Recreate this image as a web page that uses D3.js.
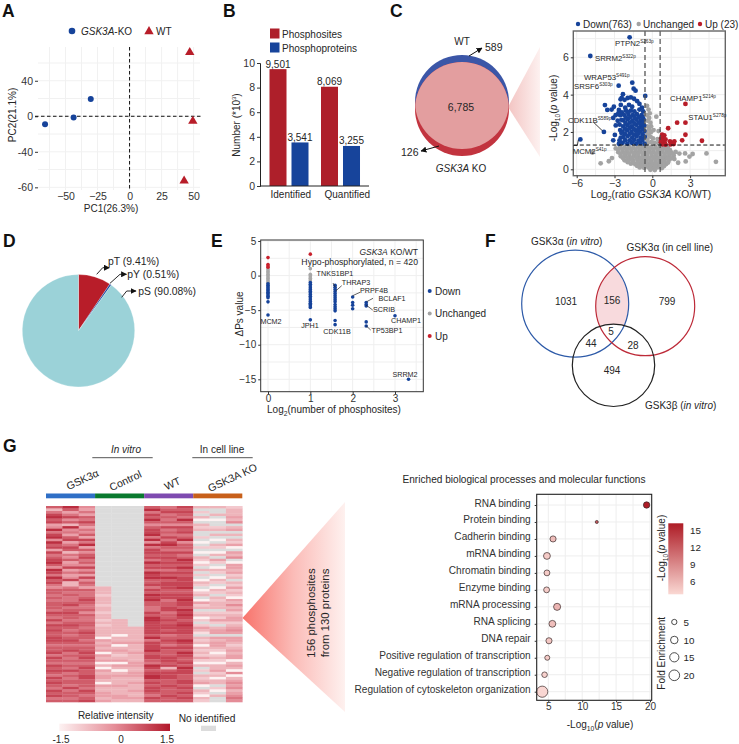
<!DOCTYPE html>
<html><head><meta charset="utf-8">
<script src="https://cdn.jsdelivr.net/npm/d3@7"></script>
<style>html,body{margin:0;padding:0;background:#fff}svg{display:block}text{font-family:"Liberation Sans",Arial,sans-serif;fill:#262626}</style>
</head><body><svg id="c" width="739" height="744"></svg>
<script>
// ---- Panel A
const pcaKoX=[-66,-43.7,-30.3], pcaKoY=[-9,-1.5,19.5];
const pcaWtX=[47,49.4,42.6], pcaWtY=[72,-5.5,-72.7];
const pcaXTicks=[-50,-25,0,25,50];
const pcaYTicks=[40,0,-40,-80], pcaYLabels=["40","0","-40","-60"];
// ---- Panel B
const barGroups=["Identified","Quantified"], barSeries=["Phosphosites","Phosphoproteins"];
const barSites=[9.501,8.069], barProteins=[3.541,3.255];
const barSiteLabels=["9,501","8,069"], barProteinLabels=["3,541","3,255"];
// ---- Panel C
const volcanoDown=[[-1.8,7.07],[-4.92,6.07],[-2.67,4.48],[-1.59,4.64],[-1.48,4.32],[-1.33,4.21],[-0.56,3.93],[-2.33,4.02],[-2.52,3.75],[-2.43,3.82],[-3.76,3.44],[-3.57,3.18],[-3.23,3.2],[-3.05,3.35],[-2.91,2.9],[-3.1,2.75],[-2.65,3.18],[-2.5,3.45],[-2.2,3.72],[-1.95,3.82],[-1.7,3.85],[-1.45,3.78],[-1.2,3.65],[-1.02,3.5],[-0.82,3.3],[-2.75,2.6],[-2.9,2.35],[-3.84,2.0],[-5.71,1.6],[-2.97,1.84],[-3.1,1.55],[-2.65,1.37],[-2.55,2.1],[-2.5,1.7],[-2.42,3.05],[-2.15,3.3],[-1.85,3.45],[-1.6,3.35],
[-2.35,1.42],[-1.98,1.38],[-1.62,1.42],[-1.28,1.38],[-0.95,1.41],[-0.62,1.37],[-2.3,1.72],[-1.95,1.78],[-1.6,1.7],[-1.25,1.76],[-0.92,1.7],[-0.6,1.75],[-2.37,2.02],[-2.0,2.08],[-1.65,2.0],[-1.3,2.06],[-0.98,2.02],[-0.63,2.05],[-2.32,2.3],[-1.97,2.36],[-1.62,2.3],[-1.28,2.38],[-0.93,2.32],[-0.65,2.35],[-2.3,2.62],[-1.95,2.68],[-1.58,2.6],[-1.25,2.66],[-0.9,2.6],[-0.68,2.66],[-2.25,2.92],[-1.9,2.96],[-1.55,2.9],[-1.22,2.95],[-0.85,2.9],[-2.1,3.15],[-1.7,3.14],[-1.02,3.2],[-0.72,3.1],
[-2.15,1.56],[-1.8,1.55],[-1.44,1.58],[-1.1,1.54],[-0.78,1.57],[-2.15,1.88],[-1.78,1.9],[-1.45,1.86],[-1.12,1.9],[-0.77,1.87],[-2.17,2.18],[-1.8,2.2],[-1.46,2.16],[-1.1,2.2],[-0.79,2.17],[-2.13,2.48],[-1.78,2.5],[-1.42,2.46],[-1.08,2.5],[-0.78,2.47],[-2.1,2.78],[-1.75,2.8],[-1.4,2.76],[-1.05,2.8],[-0.76,2.78],[-1.95,3.08],[-1.42,3.1],[-2.6,2.4],[-2.45,2.65],[-2.55,2.9],[-2.7,3.0],[-2.45,1.95],[-2.6,1.55]];
const volcanoUnchanged=[[-4.75,0.9],[-4.1,0.32],[-3.45,0.43],[-3.2,0.6],[5.05,0.4],[4.3,0.85],[3.2,0.82],[2.95,0.68],[2.65,0.42],[2.6,0.85],[2.15,0.84],[2.05,0.35],[1.75,0.55],
[-0.42,3.4],[-0.3,3.2],[-0.2,3.0],[0.32,2.82],[-0.45,2.9],[-0.35,2.6],[-0.15,2.5],[-0.4,2.3],[-0.25,2.15],[-0.1,2.3],[0.1,2.1],[0.5,2.05],[-0.45,2.0],[-0.3,1.85],[-0.4,1.6],[-0.15,1.75],[0.05,1.65],[0.42,1.62],[-0.38,1.4],[-0.1,1.45],[0.2,1.42],[0.5,1.4],[-0.25,2.75],[-0.1,2.0],
[-2.9,1.12],[-2.55,1.2],[-2.2,1.18],[-1.85,1.2],[-1.5,1.17],[-1.15,1.2],[-0.8,1.18],[-0.45,1.2],[-0.1,1.18],[0.25,1.2],[0.6,1.17],[0.95,1.2],[1.25,1.13],
[-2.7,0.92],[-2.35,0.95],[-2.0,0.92],[-1.65,0.96],[-1.3,0.93],[-0.95,0.96],[-0.6,0.93],[-0.25,0.96],[0.1,0.93],[0.45,0.96],[0.8,0.93],[1.15,0.95],[1.5,0.9],[1.85,0.93],
[-2.5,0.7],[-2.15,0.72],[-1.8,0.7],[-1.45,0.73],[-1.1,0.7],[-0.75,0.73],[-0.4,0.7],[-0.05,0.73],[0.3,0.7],[0.65,0.73],[1.0,0.7],[1.35,0.72],[1.7,0.72],
[-2.2,0.48],[-1.85,0.5],[-1.5,0.47],[-1.15,0.5],[-0.8,0.47],[-0.45,0.5],[-0.1,0.47],[0.25,0.5],[0.6,0.47],[0.95,0.5],[1.3,0.47],
[-1.7,0.3],[-1.35,0.27],[-1.0,0.3],[-0.65,0.27],[-0.3,0.3],[0.05,0.27],[0.4,0.3],[0.75,0.27],[1.1,0.28],[-1.0,0.1],[-0.65,0.08],[-0.3,0.1],[0.05,0.07],[0.4,0.1],[0.75,0.06],[-0.15,-0.03],[0.2,-0.04],
[-2.7,1.05],[-2.37,1.07],[-2.03,1.05],[-1.68,1.08],[-1.33,1.05],[-0.98,1.08],[-0.63,1.05],[-0.28,1.08],[0.08,1.05],[0.42,1.08],[0.78,1.05],[1.1,1.07],[1.4,1.03],
[-2.52,0.82],[-2.17,0.84],[-1.83,0.82],[-1.47,0.85],[-1.12,0.82],[-0.77,0.85],[-0.42,0.82],[-0.07,0.85],[0.28,0.82],[0.63,0.85],[0.98,0.82],[1.33,0.84],[1.66,0.82],
[-2.32,0.6],[-1.97,0.61],[-1.63,0.59],[-1.27,0.62],[-0.92,0.59],[-0.57,0.62],[-0.22,0.59],[0.13,0.62],[0.48,0.59],[0.83,0.62],[1.18,0.6],[1.5,0.58],
[-1.95,0.38],[-1.53,0.38],[-1.17,0.37],[-0.83,0.39],[-0.47,0.37],[-0.12,0.39],[0.23,0.37],[0.58,0.39],[0.93,0.37],[1.25,0.36],
[-1.2,0.18],[-0.83,0.19],[-0.47,0.18],[-0.12,0.19],[0.23,0.18],[0.58,0.19],[0.92,0.17]];
const volcanoUp=[[2.63,3.5],[2.63,2.5],[1.97,2.5],[1.26,2.2],[2.63,1.85],[2.37,1.55],[3.94,1.53],[0.78,1.85],[0.95,1.82],[0.7,1.65],[0.9,1.62],[1.05,1.6],[0.68,1.45],[0.85,1.42],[1.0,1.4],[0.8,1.34],[1.05,1.32],[1.4,1.5],[1.55,1.42],[1.75,1.5],[1.45,1.33],[1.7,1.35],[0.72,1.55]];
const volcanoXTicks=[-6,-3,0,3], volcanoYTicks=[0,2,4,6];
const vennCCounts=["589","6,785","126"];
// ---- Panel D
const pieLabels=["pT (9.41%)","pY (0.51%)","pS (90.08%)"];
const pieValues=[9.41,0.51,90.08];
const pieColors=["#b81d29","#1f4aa0","#9bd2d8"];
// ---- Panel E: one list per x position
const deltaX=[0,1,1.585,2,2.32,3,3.32];
const deltaDown=[
 [-1.2,-1.4,-1.6,-1.8,-2,-2.2,-2.4,-2.6,-2.8,-3,-3.2,-3.8,-5.7],
 [-1,-1.25,-1.5,-1.75,-2,-2.25,-2.5,-2.75,-3,-3.25,-3.5,-3.75,-4,-4.2,-4.4,-4.6,-6.4],
 [-1.4,-1.7,-2,-2.3,-2.6,-2.9,-3.2,-3.5,-3.8,-4.2,-4.5,-4.8,-5.1,-6.5,-7.1],
 [-3.1,-3.9,-4.3,-4.8],
 [-3.9,-4.2,-4.4,-6.7,-7.3],
 [-5.8],
 [-15]];
const deltaFlat=[[1,0.8,0.6,0.4,0.2,0,-0.2,-0.4,-0.6,-0.8,-1,-1.1],[1,0.2,0,-0.2,-0.4,-0.6,-0.8],[],[],[],[],[]];
const deltaUp=[[2.6,1.6,1.4,1.2],[3.1],[],[],[],[],[]];
const deltaLegend=["Down","Unchanged","Up"];
// ---- Panel F
const vennFCounts=["1031","156","799","5","44","28","494"];
// ---- Panel G heatmap: one text per column, one digit per row (0 low..9 high, x = not identified)
const heatGroups=["GSK3\u03b1","Control","WT","GSK3A KO"];
const heatColumns=[
"7368978459 6895978486 7897598697 8657767677 7687686878 7788767786 8768787687 87687867",
"9746857395 6478468736 5745846458 3367676678 6787767876 7678767867 6767686767 76867767",
"5464768646 5748694757 8675857485 7647667876 6757667767 8776767787 8767877887 77687678",
"xxxxxxxxxx xxxxxxxxxx xxxxxxxxxx xx33323332 3323323233 3304343404 3403043443 04334434",
"xxxxxxxxxx xxxxxxxxxx xxxxxxxxxx xxxxxxxxxx xxxxx33333 3033403432 3404303433 34333443",
"xxxxxxxxxx xxxxxxxxxx xxxxxxxxxx xxxxxxxxxx xxxxxxxx33 3333433343 3344334433 43343343",
"7968797578 8969596887 8697869897 7868798977 6687998888 8796888978 8769878997 87887687",
"6786767586 7686897687 8787868797 8887788677 8867787887 8678768777 8878378887 78777877",
"8787697587 8679577686 7987978788 8897788988 7989878988 8779878798 7787988778 87878787",
"3x2x30x323 xx2x0x2x0x 3202x3x2x0 32x023x042 3x2302x243 1x32303232 4203x2x323 40x32032",
"3xx3x0xx23 x3x0x32x03 x42x032x03 2x032x3233 3x23242x34 4x43443202 3203342303 3x20x3xx",
"2333435x34 x3x3240x43 5x0443423x 3242320435 3423442345 4x44323434 4034305034 54534565"];
// ---- Panel G bubbles
const bubbleTerms=["RNA binding","Protein binding","Cadherin binding","mRNA binding","Chromatin binding","Enzyme binding","mRNA processing","RNA splicing","DNA repair","Positive regulation of transcription","Negative regulation of transcription","Regulation of cytoskeleton organization"];
const bubbleP=[19.5,12.15,5.7,4.8,4.8,4.75,6.3,5.6,5.1,4.85,4.45,4.1];
const bubbleFold=[6.5,1.5,6,7.5,5.5,5.5,8,7.5,6,4,5,20];
const foldLegend=[5,10,15,20];
const pColorTicks=[6,9,12,15];

const svg=d3.select("#c");
const BLUE="#16439a",RED="#b81d29",GREY="#a3a3a3";
const FF='"Liberation Sans",Arial,sans-serif';
function txt(x,y,s,size,anchor,extra){
  const t=svg.append("text").attr("x",x).attr("y",y).attr("font-size",size||10).attr("text-anchor",anchor||"start");
  rich(t,s,size||10);
  if(extra)Object.entries(extra).forEach(([k,v])=>t.attr(k,v));
  return t;
}
function rich(t,s,size){
  if(typeof s==="string"){t.text(s);return;}
  let pending=0;
  s.forEach(seg=>{
    const [c,f]=Array.isArray(seg)?seg:[seg,""];
    const sp=t.append("tspan").text(c);
    let dy=pending;pending=0;
    if(f==="i")sp.attr("font-style","italic");
    if(f==="b"){sp.attr("font-size",size*0.68);dy+=size*0.28;pending=-size*0.28;}
    if(f==="p"){sp.attr("font-size",size*0.6);dy+=-size*0.38;pending=size*0.38;}
    if(dy)sp.attr("dy",dy);
  });
}
function vtxt(x,y,s,size){return txt(0,0,s,size,"middle",{transform:`translate(${x},${y}) rotate(-90)`});}
function letter(s,x,y){svg.append("text").attr("x",x).attr("y",y).attr("font-size",17.5).attr("font-weight","bold").style("fill","#111").text(s);}
function styleAxis(g,opts){
  opts=opts||{};
  g.selectAll("text").attr("font-size",opts.size||10.5).attr("font-family",FF).style("fill","#333");
  g.selectAll(".tick line").attr("stroke","#333");
  g.select(".domain").attr("stroke",opts.domain||"#222");
  if(opts.noDomain)g.select(".domain").remove();
}
function grid(x0,x1,y0,y1,xs,ys,col){
  const g=svg.append("g").attr("stroke",col||"#f1f1f1").attr("stroke-width",1);
  g.selectAll(".v").data(xs).join("line").attr("x1",d=>d).attr("x2",d=>d).attr("y1",y0).attr("y2",y1);
  g.selectAll(".h").data(ys).join("line").attr("y1",d=>d).attr("y2",d=>d).attr("x1",x0).attr("x2",x1);
}
const defs=svg.append("defs");
defs.append("marker").attr("id","arr").attr("viewBox","0 0 10 10").attr("refX",9).attr("refY",5).attr("markerWidth",6).attr("markerHeight",6).attr("orient","auto").attr("markerUnits","userSpaceOnUse")
 .append("path").attr("d","M0,0L10,5L0,10z").attr("fill","#111");
defs.append("filter").attr("id","soft").attr("x",0).attr("y",0).attr("width",1).attr("height",1).append("feGaussianBlur").attr("stdDeviation",0.55);
function lg(id,x1,x2,stops){
  const g=defs.append("linearGradient").attr("id",id).attr("x1",x1[0]).attr("y1",x1[1]).attr("x2",x2[0]).attr("y2",x2[1]);
  stops.forEach(([o,c])=>g.append("stop").attr("offset",o).attr("stop-color",c));
}
lg("coneC",[0,0],[1,0],[[0,"#f3c4c2"],[1,"#fdf1f0"]]);
lg("coneG",[0,0],[1,0],[[0,"#f8736b"],[0.5,"#fbbcb8"],[1,"#fef1ef"]]);

// ===== A =====
letter("A",2,17);
{
 const x=d3.scaleLinear().domain([-71.5,55]).range([38,200]);
 const y=d3.scaleLinear().domain([78,-83]).range([47,190]);
 grid(38,200,47,190,d3.range(-62.5,55,12.5).map(x),d3.range(-80,61,20).map(y));
 const ya=svg.append("g").attr("transform","translate(38,0)").call(d3.axisLeft(y).tickValues(pcaYTicks).tickFormat((d,i)=>pcaYLabels[i]).tickSize(3).tickPadding(2));
 styleAxis(ya,{noDomain:true});
 const xa=svg.append("g").attr("transform","translate(0,190)").call(d3.axisBottom(x).tickValues(pcaXTicks).tickSize(0).tickPadding(3));
 styleAxis(xa,{noDomain:true});
 svg.append("line").attr("x1",x(0)).attr("x2",x(0)).attr("y1",47).attr("y2",190).attr("stroke","#111").attr("stroke-width",1).attr("stroke-dasharray","3.5 2.5");
 svg.append("line").attr("x1",35).attr("x2",201).attr("y1",y(0)).attr("y2",y(0)).attr("stroke","#111").attr("stroke-width",1).attr("stroke-dasharray","3.5 2.5");
 svg.selectAll(".ko").data(pcaKoX).join("circle").attr("cx",d=>x(d)).attr("cy",(d,i)=>y(pcaKoY[i])).attr("r",3).attr("fill",BLUE);
 const tri=d3.symbol(d3.symbolTriangle,38)();
 svg.selectAll(".wt").data(pcaWtX).join("path").attr("d",tri).attr("transform",(d,i)=>`translate(${x(d)},${y(pcaWtY[i])})`).attr("fill",RED);
 svg.append("circle").attr("cx",72).attr("cy",31).attr("r",3.3).attr("fill",BLUE);
 txt(81,34.5,[["GSK3A","i"],"-KO"],10);
 svg.append("path").attr("d",tri).attr("transform","translate(149,31.5)").attr("fill",RED);
 txt(156,34.5,"WT",10);
 txt(111,212,"PC1(26.3%)",10,"middle");
 vtxt(16,115,"PC2(21.1%)",10);
}
// ===== B =====
letter("B",223,17);
{
 const y=d3.scaleLinear().domain([0,10]).range([186,63]);
 const x0=d3.scaleBand().domain(barGroups).range([263.25,366.25]);
 const x1=d3.scaleBand().domain(barSeries).range([0,x0.bandwidth()]).paddingInner(0.227).paddingOuter(0.284);
 const g=svg.append("g");
 const sets=[[barSeries[0],barSites,barSiteLabels,"#ae1f2a"],[barSeries[1],barProteins,barProteinLabels,"#17449b"]];
 sets.forEach(([s,vals,labs,c])=>{
  g.selectAll(null).data(vals).join("rect").attr("x",(d,i)=>x0(barGroups[i])+x1(s)).attr("width",x1.bandwidth()).attr("y",d=>y(d)).attr("height",d=>186-y(d)).attr("fill",c);
  g.selectAll(null).data(labs).join("text").attr("x",(d,i)=>x0(barGroups[i])+x1(s)+x1.bandwidth()/2).attr("y",(d,i)=>y(vals[i])-1.5).attr("text-anchor","middle").attr("font-size",10).text(d=>d);
 });
 const ya=svg.append("g").attr("transform","translate(260,0)").call(d3.axisLeft(y).tickValues([0,2,4,6,8,10]).tickSize(3).tickPadding(2));
 styleAxis(ya,{size:10.5});
 svg.append("line").attr("x1",260).attr("x2",369).attr("y1",186).attr("y2",186).attr("stroke","#222");
 txt(270.5,197.5,"Identified",10);txt(324.5,197.5,"Quantified",10);
 vtxt(240,125,["Number (*10",["3","p"],")"],10);
 svg.append("rect").attr("x",270).attr("y",28.5).attr("width",9.5).attr("height",10).attr("fill","#ae1f2a");
 svg.append("rect").attr("x",270).attr("y",42.5).attr("width",9.5).attr("height",10).attr("fill","#17449b");
 txt(282,37.5,barSeries[0],10);txt(282,51.5,barSeries[1],10);
}
// ===== C =====
letter("C",390,17);
{
 defs.append("clipPath").attr("id","cBlue").append("circle").attr("cx",462).attr("cy",102).attr("r",47);
 svg.append("polygon").attr("points","508,107 540,47 540,157").attr("fill","url(#coneC)");
 svg.append("circle").attr("cx",462).attr("cy",102).attr("r",47).attr("fill","#3b56a7");
 svg.append("circle").attr("cx",462).attr("cy",109).attr("r",47).attr("fill","#c2343f");
 svg.append("circle").attr("cx",462).attr("cy",109).attr("r",47).attr("fill","#e39e9f").attr("clip-path","url(#cBlue)");
 txt(461,111,vennCCounts[1],10.5,"middle");
 txt(462,45,"WT",10,"middle");
 txt(485,51,vennCCounts[0],10.5);
 svg.append("line").attr("x1",469).attr("y1",56).attr("x2",482).attr("y2",48).attr("stroke","#111").attr("marker-end","url(#arr)");
 txt(401,156,vennCCounts[2],10.5);
 svg.append("line").attr("x1",439).attr("y1",146).attr("x2",421).attr("y2",151).attr("stroke","#111").attr("marker-end","url(#arr)");
 txt(461,172,[["GSK3A","i"]," KO"],10,"middle");
 const L=573.3,R=725.3,T=31,B=175.7;
 const x=d3.scaleLinear().domain([-6,3]).range([576.7,690.1]);
 const y=d3.scaleLinear().domain([0,6]).range([169.3,57.3]);
 grid(L,R,T,B,d3.range(-6,6,1.5).map(x),d3.range(0,8,1).map(y),"#eeeeee");
 const pts=(data,c,r)=>svg.append("g").selectAll("circle").data(data).join("circle").attr("cx",d=>x(d[0])).attr("cy",d=>y(d[1])).attr("r",r||2.4).attr("fill",c);
 pts(volcanoUnchanged,GREY);
 pts(volcanoDown,BLUE);
 pts(volcanoUp,RED);
 svg.append("line").attr("x1",x(-0.58)).attr("x2",x(-0.58)).attr("y1",T).attr("y2",B).attr("stroke","#555").attr("stroke-width",1.3).attr("stroke-dasharray","5 3");
 svg.append("line").attr("x1",x(0.62)).attr("x2",x(0.62)).attr("y1",T).attr("y2",B).attr("stroke","#444").attr("stroke-width",1.1).attr("stroke-dasharray","5 3");
 svg.append("line").attr("x1",L).attr("x2",R).attr("y1",y(1.3)).attr("y2",y(1.3)).attr("stroke","#111").attr("stroke-width",1).attr("stroke-dasharray","4 2.5");
 svg.append("rect").attr("x",L).attr("y",T).attr("width",R-L).attr("height",B-T).attr("fill","none").attr("stroke","#666").attr("stroke-width",1.4);
 const xa=svg.append("g").attr("transform",`translate(0,${B})`).call(d3.axisBottom(x).tickValues(volcanoXTicks).tickFormat(d3.format("d")).tickSize(2.5).tickPadding(1));
 styleAxis(xa,{noDomain:true,size:10.5});
 const ya=svg.append("g").attr("transform",`translate(${L},0)`).call(d3.axisLeft(y).tickValues(volcanoYTicks).tickFormat(d3.format("d")).tickSize(2.5).tickPadding(2));
 styleAxis(ya,{noDomain:true,size:10.5});
 [[578,"Down(763)",583,BLUE],[638.7,"Unchanged",643,GREY],[700,"Up (23)",705,RED]].forEach(([cx,s,tx,c])=>{
  svg.append("circle").attr("cx",cx).attr("cy",24).attr("r",2.2).attr("fill",c);
  txt(tx,27.5,s,10);
 });
 const labs=[["PTPN2","S263p",615,46],["SRRM2","S322p",595,61],["WRAP53","S491p",584,80],["SRSF6","S303p",574,89],["CDK11B","S589p",568,123],["MCM2","S41p",572.7,154],["CHAMP1","S214p",670,101],["STAU1","S278p",688.3,120]];
 labs.forEach(([n,s,lx,ly])=>txt(lx,ly,[n,[s,"p"]],7.8));
 svg.append("line").attr("x1",594).attr("y1",122.7).attr("x2",602.3).attr("y2",130.7).attr("stroke","#111").attr("stroke-width",.8);
 svg.append("path").attr("d","M578.3,140L577.3,145.5L573.5,145.5").attr("fill","none").attr("stroke","#111").attr("stroke-width",.8);
 vtxt(557,108,["-Log",["10","b"],"(",["p","i"]," value)"],10);
 txt(651,198,["Log",["2","b"],"(ratio ",["GSK3A","i"]," KO/WT)"],10.2,"middle");
}
// ===== D =====
letter("D",3,247);
{
 const arcs=d3.pie().sort(null)(pieValues);
 const arc=d3.arc().innerRadius(0).outerRadius(56.2);
 svg.append("g").attr("transform","translate(78.5,330.7)").selectAll("path").data(arcs).join("path").attr("d",arc).attr("fill",(d,i)=>pieColors[i]).attr("stroke","#fff").attr("stroke-width",.25);
 const pos=[[108,265,"M96.7,274.3L102.7,267.7L109.3,267.7"],[127.3,277.5,"M110,283.3L120,274.3L126.5,274.3"],[138.3,295,"M121.7,297.3L126.7,291L136,291"]];
 pieLabels.forEach((s,i)=>{
  txt(pos[i][0],pos[i][1],s,10.4);
  svg.append("path").attr("d",pos[i][2]).attr("fill","none").attr("stroke","#111").attr("stroke-width",.9).attr("marker-end","url(#arr)");
 });
}
// ===== E =====
letter("E",211,247);
{
 const L=260.7,R=423.3,T=240,B=391.7;
 const x=d3.scaleLinear().domain([0,3]).range([268,395]);
 const y=d3.scaleLinear().domain([5,-15]).range([241,379.3]);
 grid(L,R,T,B,d3.range(0,3.6,.5).map(x),d3.range(-15,5.1,2.5).map(y),"#efefef");
 const pts=(lists,c,r)=>lists.forEach((ys,k)=>svg.append("g").selectAll("circle").data(ys).join("circle").attr("cx",x(deltaX[k])).attr("cy",d=>y(d)).attr("r",r).attr("fill",c));
 pts(deltaFlat,"#a8a8a8",1.8);
 pts(deltaDown,BLUE,1.8);
 pts(deltaUp,"#c9202c",1.8);
 svg.append("rect").attr("x",L).attr("y",T).attr("width",R-L).attr("height",B-T).attr("fill","none").attr("stroke","#333").attr("stroke-width",1);
 const xa=svg.append("g").attr("transform",`translate(0,${B})`).call(d3.axisBottom(x).tickValues([0,1,2,3]).tickFormat(d3.format("d")).tickSize(2.5).tickPadding(1));
 styleAxis(xa,{noDomain:true,size:10});
 const ya=svg.append("g").attr("transform",`translate(${L},0)`).call(d3.axisLeft(y).tickValues([5,0,-5,-10,-15]).tickSize(2.5).tickPadding(2));
 styleAxis(ya,{noDomain:true,size:10});
 txt(418,255,[["GSK3A","i"]," KO/WT"],8.5,"end");
 txt(418,265,"Hypo-phosphorylated, n = 420",8.7,"end");
 [["MCM2",271,324],["JPH1",310,328],["CDK11B",337,333.5],["TP53BP1",387,333],["CHAMP1",406,322.5],["SCRIB",384,312],["BCLAF1",392,301],["PRPF4B",374,293],["THRAP3",356,285],["TNKS1BP1",335,275.5],["SRRM2",405,377]].forEach(([s,lx,ly])=>txt(lx,ly,s,7.2,"middle"));
 [[333,283,335,287],[335.7,291,341.7,285.7],[352.7,295.7,360,292.3],[366.7,301.7,373,298.3],[366,305,372.7,310],[366,325.7,370.7,330]].forEach(([a,b,c,d])=>svg.append("line").attr("x1",a).attr("y1",b).attr("x2",c).attr("y2",d).attr("stroke","#222").attr("stroke-width",.7));
 const colors=[BLUE,"#a3a3a3","#c9202c"];
 deltaLegend.forEach((s,i)=>{
  const ly=291+i*22.5;
  svg.append("circle").attr("cx",429.7).attr("cy",ly).attr("r",2).attr("fill",colors[i]);
  txt(435,ly+3.5,s,10);
 });
 txt(334,413,["Log",["2","b"],"(number of phosphosites)"],10,"middle");
 vtxt(243,314,"\u0394Ps value",10);
}
// ===== F =====
letter("F",485,247);
{
 const c=[[575.2,303.7,53.5,"#2d5aa8"],[645.2,306.2,49.5,"#bd2a38"],[613.5,365.3,41.2,"#222"]];
 defs.append("clipPath").attr("id","fA").append("circle").attr("cx",c[0][0]).attr("cy",c[0][1]).attr("r",c[0][2]);
 const m=defs.append("mask").attr("id","fM").attr("maskUnits","userSpaceOnUse").attr("x",0).attr("y",0).attr("width",739).attr("height",744);
 m.append("rect").attr("width",739).attr("height",744).attr("fill","#fff");
 m.append("circle").attr("cx",c[2][0]).attr("cy",c[2][1]).attr("r",c[2][2]).attr("fill","#000");
 svg.append("g").attr("mask","url(#fM)").append("circle").attr("cx",c[1][0]).attr("cy",c[1][1]).attr("r",c[1][2]).attr("fill","#f8dadd").attr("clip-path","url(#fA)");
 c.forEach(d=>svg.append("circle").attr("cx",d[0]).attr("cy",d[1]).attr("r",d[2]).attr("fill","none").attr("stroke",d[3]).attr("stroke-width",1.2));
 [[566,305],[612,304],[667,305],[611,335],[591,347],[633,348.5],[612,374]].forEach((p,i)=>txt(p[0],p[1],vennFCounts[i],10,"middle"));
 txt(531,245,["GSK3\u03b1 (",["in vitro","i"],")"],10);
 txt(626.5,251,"GSK3\u03b1 (in cell line)",10.1);
 txt(645,409,["GSK3\u03b2 (",["in vitro","i"],")"],10);
}
// ===== G heat =====
letter("G",3,452);
{
 const cols=heatColumns.map(s=>s.replace(/ /g,""));
 const nRow=cols[0].length;
 const x=d3.scaleBand().domain(d3.range(cols.length)).range([46,242.3]);
 const y=d3.scaleBand().domain(d3.range(nRow)).range([506,702]);
 const col=d3.scaleLinear().domain([-1.5,0,1.5]).range(["#fdf2f2","#e58d98","#b2182b"]);
 const digit=ch=>-1.5+(+ch)/3.3;
 const g=svg.append("g").attr("filter","url(#soft)");
 cols.forEach((s,j)=>{
  g.selectAll(null).data(s.split("")).join("rect").attr("x",x(j)).attr("width",x.bandwidth()+.3).attr("y",(d,i)=>y(i)).attr("height",y.bandwidth()+.3)
   .attr("fill",d=>d==="x"?"#dcdcdc":col(digit(d)));
 });
 const gc=["#2f6fc6","#0a7a2f","#7e4bb0","#c8601a"];
 heatGroups.forEach((s,i)=>svg.append("rect").attr("x",x(i*3)).attr("width",x.bandwidth()*3).attr("y",493.5).attr("height",4.8).attr("fill",gc[i]));
 const lp=[[84,483],[127,484],[174,487],[234,481]];
 heatGroups.forEach((s,i)=>txt(0,0,s,10.6,"middle",{transform:`translate(${lp[i][0]},${lp[i][1]}) rotate(-25)`}));
 txt(126,453,[["In vitro","i"]],10,"middle");
 txt(222,453,"In cell line",10,"middle");
 [[92.3,152.7],[192.3,252.7]].forEach(([a,b])=>svg.append("line").attr("x1",a).attr("x2",b).attr("y1",457.7).attr("y2",457.7).attr("stroke","#555"));
 svg.append("polygon").attr("points","242.5,618 345,502 345,712").attr("fill","url(#coneG)");
 txt(0,0,"156 phosphosites",11.4,"middle",{transform:"translate(315,613) rotate(-90)"});
 txt(0,0,"from 130 proteins",11.4,"middle",{transform:"translate(329,613) rotate(-90)"});
 lg("heatLeg",[0,0],[1,0],[[0,col(-1.5)],[.5,col(0)],[1,col(1.5)]]);
 svg.append("rect").attr("x",59.3).attr("y",723.7).attr("width",110.7).attr("height",7.3).attr("fill","url(#heatLeg)");
 txt(115.7,719,"Relative intensity",10,"middle");
 [["-1.5",61],["0",121],["1.5",167]].forEach(([s,lx])=>txt(lx,743,s,10,"middle"));
 txt(207,722,"No identified",10.2,"middle");
 svg.append("rect").attr("x",201).attr("y",725.7).attr("width",15).attr("height",5.3).attr("fill","#dcdcdc");
}
// ===== G bubbles =====
{
 const L=536.7,R=651.7,T=494.3,B=700.3;
 const x=d3.scaleLinear().domain([5,20]).range([548.3,650]);
 const y=d3.scalePoint().domain(bubbleTerms).range([505,691.7]);
 const r=d3.scaleSqrt().domain([0,20]).range([0,5.6]);
 const c=d3.scaleLinear().domain([4,16]).range(["#fad8d3","#ae1c26"]).clamp(true);
 grid(L,R,T,B,d3.range(5,21,2.5).map(x),bubbleTerms.map(y),"#eeeeee");
 svg.append("g").selectAll("circle").data(bubbleTerms).join("circle").attr("cx",(d,i)=>x(bubbleP[i])).attr("cy",d=>y(d)).attr("r",(d,i)=>r(bubbleFold[i])).attr("fill",(d,i)=>c(bubbleP[i])).attr("stroke","#3a2a2a").attr("stroke-width",.7);
 svg.append("rect").attr("x",L).attr("y",T).attr("width",R-L).attr("height",B-T).attr("fill","none").attr("stroke","#222").attr("stroke-width",1.1);
 const ya=svg.append("g").attr("transform",`translate(${L},0)`).call(d3.axisLeft(y).tickSize(2).tickPadding(4));
 styleAxis(ya,{noDomain:true,size:10.1});
 ya.selectAll("text").attr("dy","0.1em");
 const xa=svg.append("g").attr("transform",`translate(0,${B})`).call(d3.axisBottom(x).tickValues([5,10,15,20]).tickSize(2).tickPadding(1));
 styleAxis(xa,{noDomain:true,size:10});
 txt(524,483,"Enriched biological processes and molecular functions",10.1,"middle");
 txt(600,728,["-Log",["10","b"],"(",["p","i"]," value)"],10,"middle");
 lg("pLeg",[0,1],[0,0],[[0,"#fad8d3"],[1,"#ae1c26"]]);
 svg.append("rect").attr("x",668.3).attr("y",523.3).attr("width",15).attr("height",71).attr("fill","url(#pLeg)");
 const py=d3.scaleLinear().domain([6,15]).range([581.7,530.7]);
 pColorTicks.forEach(t=>txt(690,py(t)+3.5,String(t),9.8));
 vtxt(665,548,["-Log",["10","b"],"(",["p","i"]," value)"],10);
 vtxt(665,653.3,"Fold Enrichment",10);
 const ly=[622,640,657.3,675.3];
 foldLegend.forEach((f,i)=>{
  svg.append("circle").attr("cx",674.3).attr("cy",ly[i]).attr("r",r(f)*.95).attr("fill","#fff").attr("stroke","#222").attr("stroke-width",.8);
  txt(683.5,ly[i]+3.5,String(f),9.8);
 });
}
</script></body></html>
